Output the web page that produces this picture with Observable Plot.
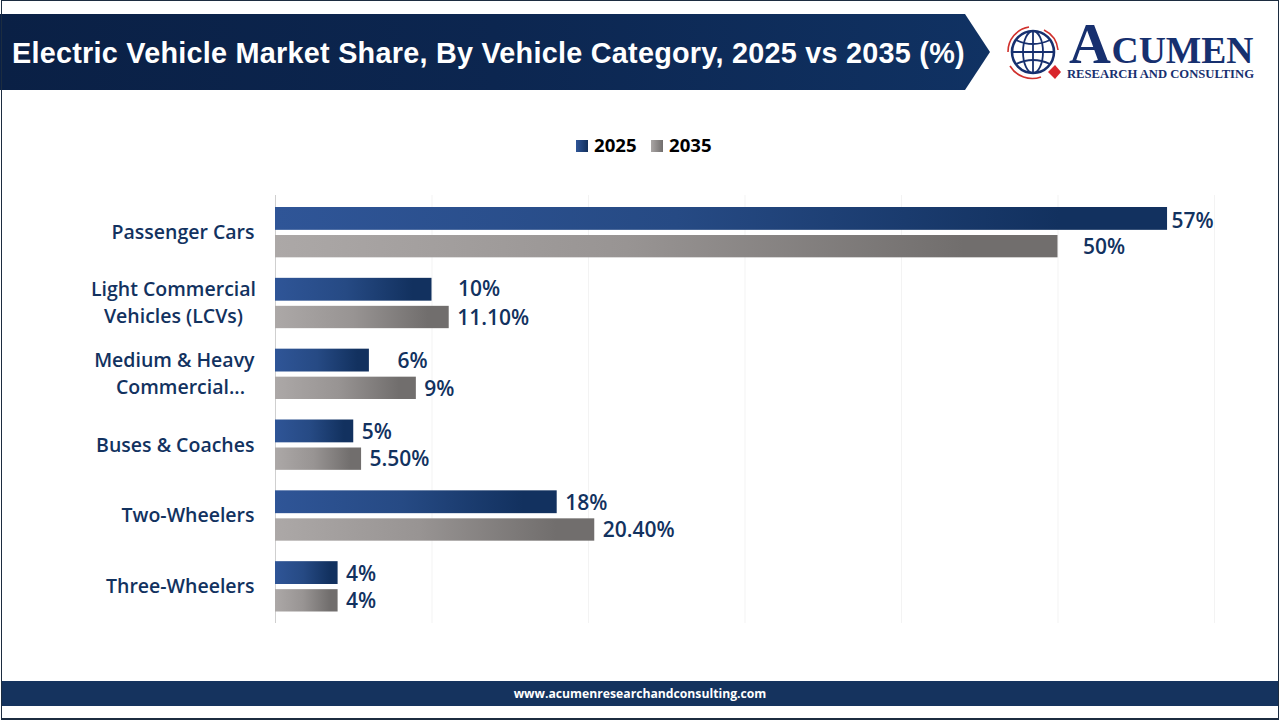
<!DOCTYPE html>
<html>
<head>
<meta charset="utf-8">
<script src="https://cdn.jsdelivr.net/npm/d3@7"></script>
<script src="https://cdn.jsdelivr.net/npm/@observablehq/plot@0.6"></script>
<style>
html,body{margin:0;padding:0;background:#fff;width:1280px;height:720px;overflow:hidden}
#frame{position:absolute;left:1px;top:0;width:1276px;height:717px;border:1.5px solid #1c2c40;border-bottom-width:2px;box-sizing:content-box;pointer-events:none;z-index:5}
#banner{position:absolute;left:0;top:14px;width:990px;height:76px;background:linear-gradient(90deg,#0a2045 0%,#0c2650 50%,#103263 100%);clip-path:polygon(0 0,965px 0,990px 38px,965px 76px,0 76px)}
#title{position:absolute;left:12px;top:14px;height:76px;color:#fff;font:700 28.8px/78px "Liberation Sans",Arial,sans-serif;white-space:nowrap;letter-spacing:.25px}
#logo{position:absolute;left:1000px;top:0}
#legend{position:absolute;top:133px;left:0;width:1280px;height:24px;font:700 18.6px/24px "Open Sans",sans-serif;color:#000}
#legend span{position:absolute;top:0}
#legend i{position:absolute;top:7px;width:12px;height:12px}
#chart{position:absolute;left:0;top:190px}
#footer{position:absolute;left:2px;top:681px;width:1276px;height:25px;background:#15335e;color:#fff;font:700 12.2px/25px "Open Sans",sans-serif;text-align:center}
</style>
</head>
<body>
<div id="banner"></div>
<div id="title">Electric Vehicle Market Share, By Vehicle Category, 2025 vs 2035 (%)</div>
<svg id="logo" width="275" height="90" viewBox="1000 0 275 90">
  <g fill="none" stroke="#17306f" stroke-width="1.8">
    <circle cx="1033" cy="52" r="21" stroke-width="2.6"/>
    <ellipse cx="1033" cy="52" rx="10" ry="21"/>
    <line x1="1033" y1="31" x2="1033" y2="73"/>
    <line x1="1012" y1="52" x2="1054" y2="52"/>
    <path d="M1016 40 Q1033 48 1050 40"/>
    <path d="M1016 64 Q1033 56 1050 64"/>
  </g>
  <g fill="none" stroke="#d0312d" stroke-width="1.6">
    <path d="M1008 52 A25 25 0 0 1 1029 27"/>
    <path d="M1044 30 A25 25 0 0 1 1058 50"/>
    <path d="M1010 66 A26 26 0 0 0 1041 77"/>
  </g>
  <polygon points="1055,65 1061,72 1055,79 1048,72" fill="#d8262c"/>
  <text x="1069" y="63" font-family="Liberation Serif" font-weight="700" font-size="58" fill="#17306f">A</text>
  <text x="1111.5" y="63" font-family="Liberation Serif" font-weight="700" font-size="38" fill="#17306f" textLength="142" lengthAdjust="spacingAndGlyphs">CUMEN</text>
  <text x="1067" y="78" font-family="Liberation Serif" font-weight="700" font-size="13" fill="#17306f" textLength="187" lengthAdjust="spacingAndGlyphs">RESEARCH AND CONSULTING</text>
</svg>
<div id="legend">
  <i style="left:576px;background:linear-gradient(90deg,#2f5597,#12305c)"></i><span style="left:594px">2025</span>
  <i style="left:651px;background:linear-gradient(90deg,#aaa6a5,#716e6d)"></i><span style="left:669px">2035</span>
</div>
<div id="chart"></div>
<div id="footer">www.acumenresearchandconsulting.com</div>
<div id="frame"></div>
<script>
const categories = [
  "Passenger Cars",
  "Light Commercial\nVehicles (LCVs)",
  "Medium & Heavy\nCommercial...",
  "Buses & Coaches",
  "Two-Wheelers",
  "Three-Wheelers"
];
const values2025 = [57, 10, 6, 5, 18, 4];
const values2035 = [50, 11.1, 9, 5.5, 20.4, 4];
const labels2025 = ["57%", "10%", "6%", "5%", "18%", "4%"];
const labels2035 = ["50%", "11.10%", "9%", "5.50%", "20.40%", "4%"];
const xTicks = [0, 10, 20, 30, 40, 50, 60];

const rows = categories.flatMap((category, i) => [
  {category, year: 2025, value: values2025[i], label: labels2025[i]},
  {category, year: 2035, value: values2035[i], label: labels2035[i]}
]);
const navy = "#12325f";
const oneLine = categories.filter(c => !c.includes("\n"));
const lcv = categories[1];
const mhcv = categories[2];
const textStyle = {fontFamily: "Open Sans", fontWeight: 600, fontSize: 19.5, fill: navy, lineHeight: 1.38};
const barLabelStyle = {fontFamily: "Open Sans", fontWeight: 600, fontSize: 21, fill: navy, textAnchor: "start"};

// Bar-value labels sit at one of several gaps from the bar end in the reference.
const pick = (year, list) => rows.filter(d => d.year === year && list.includes(d.label));
const barLabel = (data, dx, dy) => Plot.text(data, {x: "value", y: "category", text: "label", dx, dy, ...barLabelStyle});

const defs = () => {
  const el = document.createElementNS("http://www.w3.org/2000/svg", "defs");
  el.innerHTML = `
    <linearGradient id="g2025" x1="0" x2="1" y1="0" y2="0"><stop offset="0" stop-color="#2f5597"/><stop offset="0.45" stop-color="#264a84"/><stop offset="0.88" stop-color="#12315f"/><stop offset="1" stop-color="#12315f"/></linearGradient>
    <linearGradient id="g2035" x1="0" x2="1" y1="0" y2="0"><stop offset="0" stop-color="#aca8a7"/><stop offset="0.45" stop-color="#989493"/><stop offset="0.88" stop-color="#716e6d"/><stop offset="1" stop-color="#716e6d"/></linearGradient>`;
  return el;
};

const chart = Plot.plot({
  width: 1280,
  height: 440,
  marginLeft: 275,
  marginRight: 66,
  marginTop: 5,
  marginBottom: 7,
  style: {background: "#fff"},
  x: {domain: [0, 60], ticks: xTicks, axis: null},
  y: {domain: categories, range: [6.5, 431.5], padding: 0, round: false, axis: null},
  marks: [
    defs,
    Plot.ruleX(xTicks.slice(1), {stroke: "#f3f3f3", strokeWidth: 1}),
    Plot.ruleX([0], {stroke: "#cfcfcf", strokeWidth: 1}),
    Plot.barX(rows.filter(d => d.year === 2025), {x: "value", y: "category", fill: "url(#g2025)", insetTop: 10.5, insetBottom: 37.5}),
    Plot.barX(rows.filter(d => d.year === 2035), {x: "value", y: "category", fill: "url(#g2035)", insetTop: 38.5, insetBottom: 10}),
    barLabel(pick(2025, ["57%"]), 4, -11),
    barLabel(pick(2025, ["10%"]), 26, -14),
    barLabel(pick(2025, ["6%"]), 28, -13),
    barLabel(pick(2025, ["5%", "18%", "4%"]), 8, -12.5),
    barLabel(pick(2035, ["50%"]), 25, 15),
    barLabel(pick(2035, ["11.10%", "9%", "5.50%", "20.40%", "4%"]), 8, 14.7),
    Plot.text(oneLine, {x: () => 0, y: d => d, text: d => d, dx: -21, dy: -2, textAnchor: "end", ...textStyle}),
    Plot.text([lcv], {x: () => 0, y: d => d, text: d => d, dx: -102, dy: -2, textAnchor: "middle", ...textStyle}),
    Plot.text([mhcv], {x: () => 0, y: d => d, text: d => d.split("\n")[0], dx: -21, dy: -15.5, textAnchor: "end", ...textStyle}),
    Plot.text([mhcv], {x: () => 0, y: d => d, text: d => d.split("\n")[1], dx: -95, dy: 11.5, textAnchor: "middle", ...textStyle})
  ]
});
document.getElementById("chart").appendChild(chart);
</script>
</body>
</html>
